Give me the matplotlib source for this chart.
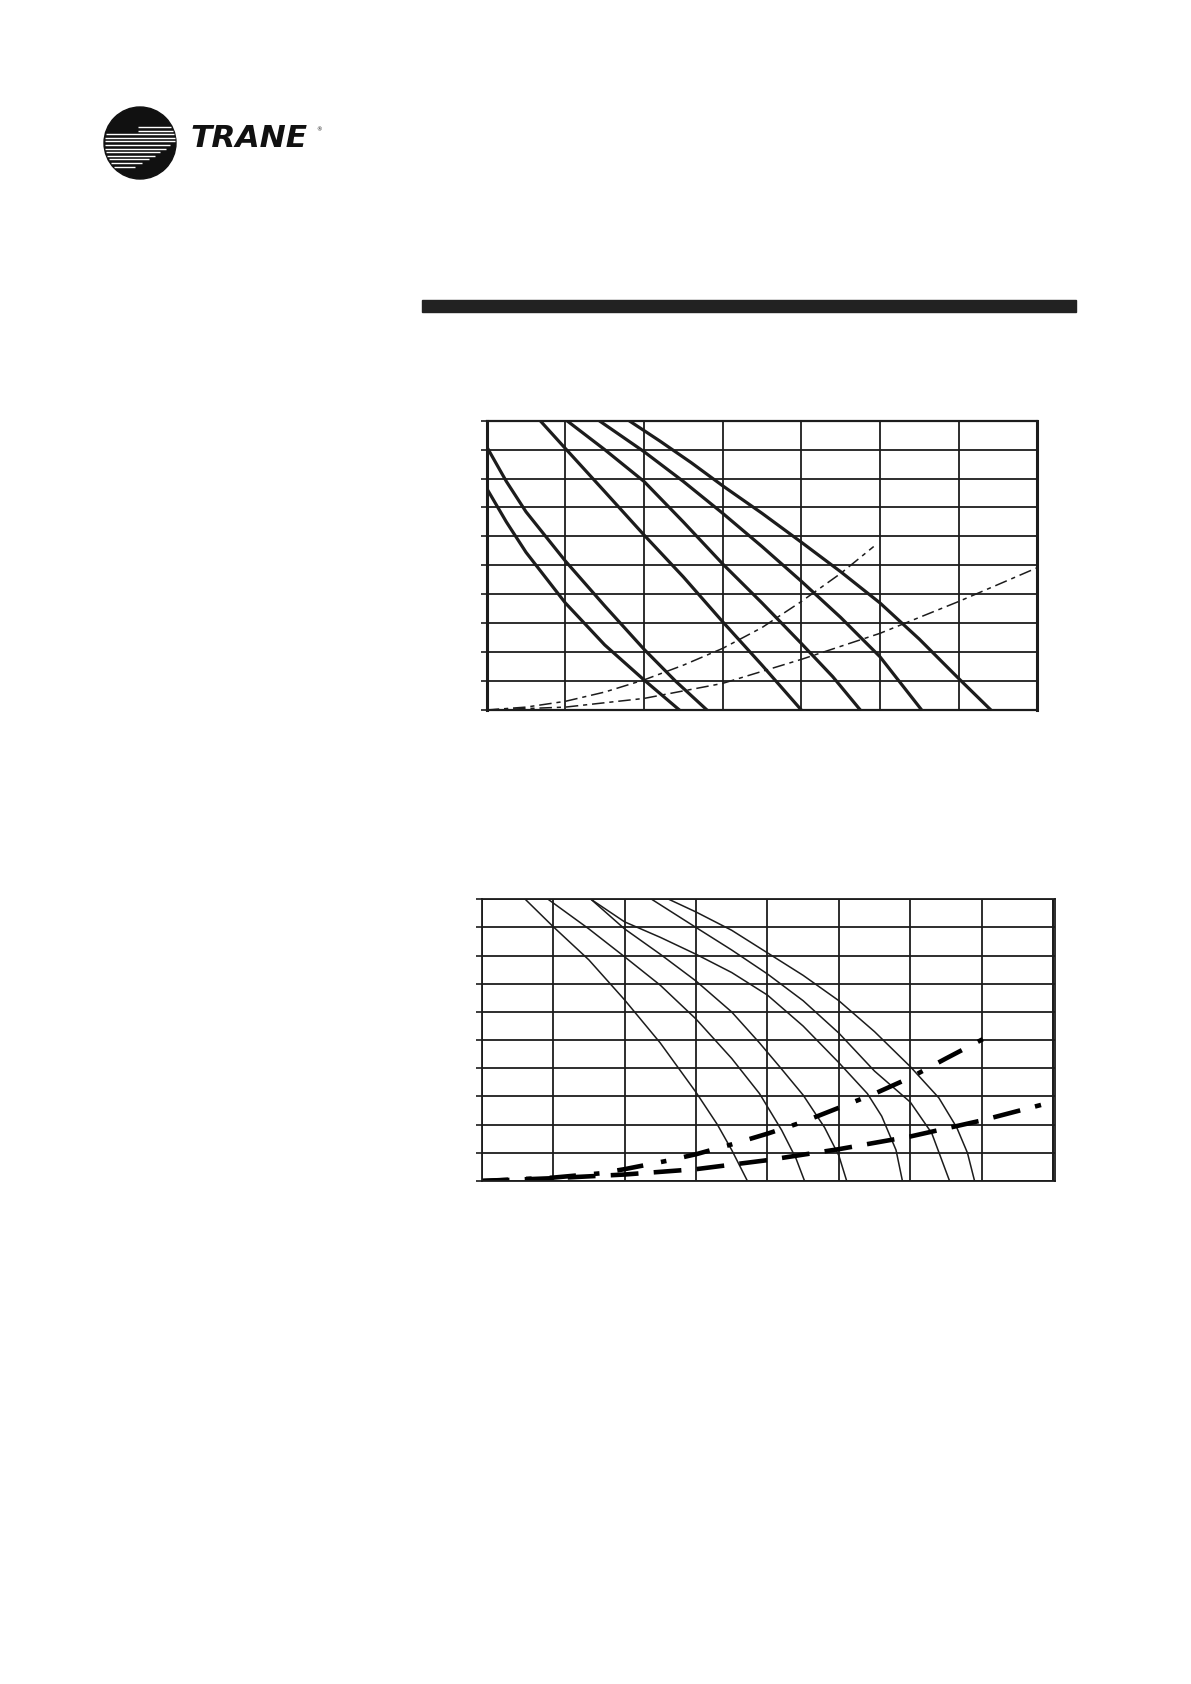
import numpy as np
import matplotlib
matplotlib.use("Agg")
import matplotlib.pyplot as plt
from matplotlib.patches import Circle, Rectangle

plt.rcParams["lines.scale_dashes"] = False

W, H = 1191, 1684

# upper chart: six solid curves (grid units: 7 columns x 10 rows)
upper_solid_x = [
    [0, 0.25, 0.5, 1.0, 1.5, 2.0, 2.45],
    [0, 0.25, 0.5, 1.0, 1.5, 2.0, 2.4, 2.8],
    [0.68, 1.0, 1.5, 2.0, 2.5, 3.0, 3.5, 4.0],
    [1.02, 1.5, 2.0, 2.5, 3.0, 3.5, 4.0, 4.4, 4.75],
    [1.43, 2.0, 2.5, 3.0, 3.5, 4.0, 4.5, 5.0, 5.53],
    [1.81, 2.2, 2.6, 3.0, 3.5, 4.0, 4.5, 5.0, 5.5, 6.0, 6.41],
]
upper_solid_y = [
    [7.66, 6.5, 5.45, 3.7, 2.25, 1.04, 0],
    [9.1, 7.9, 6.85, 5.15, 3.6, 2.1, 1.0, 0],
    [10, 9.04, 7.55, 6.05, 4.6, 3.05, 1.55, 0],
    [10, 9.0, 7.9, 6.5, 5.05, 3.7, 2.3, 1.15, 0],
    [10, 8.93, 7.9, 6.8, 5.65, 4.45, 3.2, 1.84, 0],
    [10, 9.3, 8.55, 7.75, 6.8, 5.8, 4.78, 3.7, 2.45, 1.09, 0],
]
# upper chart: two thin dash-dot curves
upper_dash_x = [
    [0, 0.5, 1.0, 1.5, 2.0, 2.5, 3.0, 3.5, 4.0, 4.5, 4.92],
    [0, 1, 2, 3, 4, 5, 6, 7],
]
upper_dash_y = [
    [0, 0.1, 0.3, 0.62, 1.04, 1.55, 2.13, 2.85, 3.75, 4.72, 5.65],
    [0, 0.1, 0.4, 0.92, 1.75, 2.65, 3.75, 4.92],
]

# lower chart: six thin solid curves (8 columns x 10 rows)
lower_solid_x = [
    [0.61, 1.0, 1.5, 2.0, 2.5, 3.0, 3.3, 3.5, 3.72],
    [0.93, 1.5, 2.0, 2.5, 3.0, 3.5, 3.89, 4.2, 4.4, 4.52],
    [1.53, 2.0, 2.5, 3.0, 3.5, 3.89, 4.17, 4.5, 4.8, 5.0, 5.11],
    [1.53, 2.0, 2.5, 3.0, 3.5, 4.0, 4.5, 5.0, 5.4, 5.6, 5.8, 5.89],
    [2.38, 3.0, 3.5, 4.0, 4.5, 5.0, 5.5, 6.0, 6.3, 6.55],
    [2.62, 3.0, 3.5, 4.0, 4.5, 5.0, 5.5, 6.0, 6.4, 6.65, 6.8, 6.9],
]
lower_solid_y = [
    [10, 9.03, 7.85, 6.43, 4.9, 3.15, 2.0, 1.1, 0],
    [10, 8.95, 7.96, 6.95, 5.75, 4.35, 3.1, 1.8, 0.8, 0],
    [10, 8.95, 8.05, 7.1, 6.0, 4.9, 4.06, 3.05, 1.9, 0.9, 0],
    [10, 9.2, 8.65, 8.05, 7.4, 6.6, 5.5, 4.2, 3.1, 2.3, 1.1, 0],
    [10, 9.0, 8.2, 7.35, 6.4, 5.25, 3.9, 2.8, 1.7, 0],
    [10, 9.55, 8.9, 8.1, 7.3, 6.4, 5.3, 4.06, 2.95, 1.9, 1.0, 0],
]
# lower chart: heavy dash-dot and heavy dashed curves
lower_dashdot_x = [0, 1.0, 1.65, 2.0, 2.6, 3.0, 3.5, 4.0, 4.5, 5.0, 5.5, 6.0, 6.5, 7.17]
lower_dashdot_y = [0, 0.12, 0.27, 0.42, 0.72, 0.95, 1.3, 1.68, 2.1, 2.6, 3.1, 3.67, 4.35, 5.24]
lower_dashed_x = [0, 1.0, 2.0, 3.0, 4.0, 5.0, 6.0, 7.0, 7.83]
lower_dashed_y = [0, 0.1, 0.23, 0.42, 0.74, 1.13, 1.58, 2.15, 2.7]

INK = "#1c1c1c"


def px_axes(fig, left, top, right, bottom):
    return fig.add_axes([left / W, 1 - bottom / H, (right - left) / W, (bottom - top) / H])


def grid_axes(ax, ncols, xmax, side_lw, edge_lw):
    ax.set_xlim(0, xmax)
    ax.set_ylim(0, 10)
    ax.set_xticks(range(0, ncols + 1))
    ax.set_yticks(range(0, 11))
    ax.grid(True, color=INK, lw=1.3)
    ax.set_axisbelow(True)
    ax.tick_params(axis="x", length=0, labelbottom=False)
    ax.tick_params(axis="y", length=4, width=1.2, color=INK, direction="out", labelleft=False)
    for s in ("left", "right"):
        ax.spines[s].set_linewidth(side_lw)
        ax.spines[s].set_color(INK)
    for s in ("top", "bottom"):
        ax.spines[s].set_linewidth(edge_lw)
        ax.spines[s].set_color(INK)


fig = plt.figure(figsize=(W / 100, H / 100), dpi=100)

# page decoration: logo and header bar
deco = fig.add_axes([0, 0, 1, 1])
deco.set_xlim(0, W)
deco.set_ylim(H, 0)
deco.axis("off")
cx, cy, r = 140, 143, 36
deco.add_patch(Circle((cx, cy), r, color="#111111"))
for i, y in enumerate(np.arange(127, 170, 3.6)):
    half = np.sqrt(max(r * r - (y - cy) ** 2, 0)) - 1
    if i < 2:
        x0, x1 = cx - 2, cx + half
    else:
        x0 = cx - half
        x1 = cx + half - max(0, (i - 4)) * 4.5
    deco.plot([x0, x1], [y, y], color="white", lw=1.0, solid_capstyle="butt")
deco.text(190, 147, "TRANE", fontsize=22.5, fontweight="heavy", style="italic",
          family="DejaVu Sans", color="#111111", va="baseline", ha="left")
deco.text(316, 130, "\u00ae", fontsize=4, color="#111111", va="center", ha="left")
deco.add_patch(Rectangle((422, 300), 654, 12, color="#222222"))

# upper chart
ax1 = px_axes(fig, 486.7, 420.7, 1037.3, 710)
grid_axes(ax1, 7, 7, 2.2, 1.6)
for xs, ys in zip(upper_solid_x, upper_solid_y):
    ax1.plot(xs, ys, color=INK, lw=2.3, solid_joinstyle="round")
for xs, ys in zip(upper_dash_x, upper_dash_y):
    ln, = ax1.plot(xs, ys, color=INK, lw=1.1)
    ln.set_dashes((9, 3.5, 3, 3.5))

# lower chart
ax2 = px_axes(fig, 481.7, 899.3, 1055.3, 1181)
grid_axes(ax2, 8, 8.03, 1.3, 1.3)
ax2.axvline(8, color=INK, lw=1.3)
for xs, ys in zip(lower_solid_x, lower_solid_y):
    ax2.plot(xs, ys, color=INK, lw=1.1, solid_joinstyle="round")
ln, = ax2.plot(lower_dashdot_x, lower_dashdot_y, color="black", lw=3.3)
ln.set_dashes((19, 13, 4, 13))
ln, = ax2.plot(lower_dashed_x, lower_dashed_y, color="black", lw=3.3)
ln.set_dashes((20, 11))

fig.savefig("out.png", dpi=100)
